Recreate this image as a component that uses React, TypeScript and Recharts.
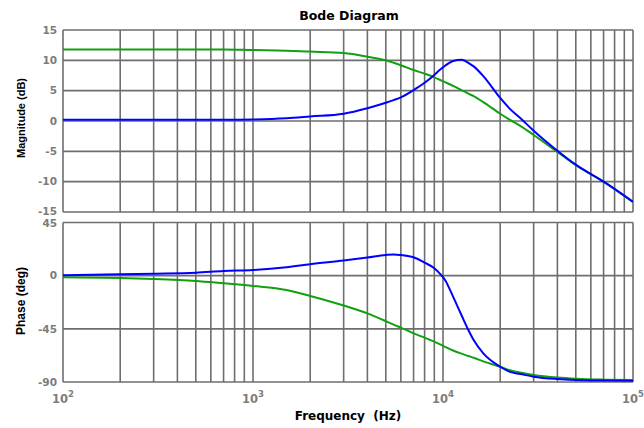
import React from "react";
import { LineChart, Line, XAxis, YAxis, CartesianGrid } from "recharts";

// frequencies (Hz) shared by every trace
const freqs = [
  100, 200, 300, 500, 700, 1000, 1500, 2000, 3000, 4000, 5000, 5500, 6000, 7000,
  8000, 9000, 9600, 10250, 11300, 12500, 13600, 14500, 16300, 20000, 22500,
  25500, 30000, 40000, 50000, 70000, 100000,
];

// magnitude, dB
const magBlue = [
  0.2, 0.2, 0.2, 0.2, 0.2, 0.25, 0.45, 0.75, 1.2, 2.1, 3.0, 3.45, 3.9, 5.1,
  6.3, 7.6, 8.4, 9.1, 9.9, 10.1, 9.6, 9.0, 7.4, 3.8, 2.0, 0.5, -1.6, -4.9,
  -7.2, -10.0, -13.3,
];
const magGreen = [
  11.8, 11.8, 11.8, 11.8, 11.8, 11.7, 11.6, 11.45, 11.2, 10.6, 10.0, 9.6, 9.2,
  8.4, 7.8, 7.2, 6.8, 6.4, 5.8, 5.1, 4.5, 4.1, 3.1, 1.2, 0.2, -0.8, -2.3, -5.1,
  -7.3, -10.0, -13.4,
];

// phase, deg
const phaseBlue = [
  0.3, 1.2, 1.7, 2.5, 4.0, 4.8, 7.1, 9.7, 12.8, 15.3, 17.5, 18.0, 17.5, 15.6,
  11.0, 6.3, 2.0, -3.6, -17.8, -33.3, -46.0, -54.5, -65.8, -77.1, -81.4, -83.2,
  -85.5, -87.5, -88.3, -88.8, -89.0,
];
const phaseGreen = [
  -1.4, -2.0, -2.8, -4.5, -6.5, -8.7, -12.1, -17.2, -25.3, -31.9, -38.5, -41.5,
  -44.0, -48.8, -52.5, -55.9, -58.0, -60.2, -63.3, -66.0, -68.0, -69.5, -72.5,
  -77.1, -80.0, -82.0, -84.0, -86.2, -87.2, -88.0, -88.4,
];

const freqTicks = [
  100, 200, 300, 400, 500, 600, 700, 800, 900,
  1000, 2000, 3000, 4000, 5000, 6000, 7000, 8000, 9000,
  10000, 20000, 30000, 40000, 50000, 60000, 70000, 80000, 90000,
  100000,
];
const magTicks = [-15, -10, -5, 0, 5, 10, 15];
const phaseTicks = [-90, -45, 0, 45];

const magData = freqs.map((f, i) => ({ f, blue: magBlue[i], green: magGreen[i] }));
const phaseData = freqs.map((f, i) => ({ f, blue: phaseBlue[i], green: phaseGreen[i] }));

const GRID = "#6e6e6e";
const TICK = "#7c7c7c";
const BLUE = "#0000ff";
const GREEN = "#10a010";
const FONT = "DejaVu Sans";

// y tick; the labels where the two panels meet are nudged apart a little
function makeYTick(nudgeValue: number, nudge: number) {
  return function YTick({ x, y, payload }: any) {
    const dy = payload.value === nudgeValue ? nudge : 0;
    return (
      <text
        x={x}
        y={y + dy}
        dy="0.36em"
        textAnchor="end"
        fill={TICK}
        fontFamily={FONT}
        fontWeight="bold"
        fontSize={10.5}
      >
        {payload.value}
      </text>
    );
  };
}
const MagTick = makeYTick(-15, -1);
const PhaseTick = makeYTick(45, 1);

// top panel keeps its x ticks (for the grid) but draws no labels
function NoTick() {
  return <g />;
}

function FreqTick({ x, y, payload }: any) {
  const exp = Math.log10(payload.value);
  if (Math.abs(exp - Math.round(exp)) > 1e-6) return <g />;
  return (
    <text x={x} y={y + 13} textAnchor="middle" fill={TICK} fontFamily={FONT} fontWeight="bold" fontSize={11.5}>
      <tspan>10</tspan>
      <tspan dy={-6.5} fontSize={8.5}>{Math.round(exp)}</tspan>
    </text>
  );
}

const label: React.CSSProperties = {
  position: "absolute",
  fontFamily: "Liberation Sans",
  fontWeight: "bold",
  color: "#000",
  whiteSpace: "pre",
  lineHeight: 1,
};

export default function App() {
  return (
    <div style={{ position: "absolute", left: 0, top: 0, width: 644, height: 428, background: "#fff" }}>
      <div style={{ ...label, left: 0, width: 698, top: 10, textAlign: "center", fontFamily: FONT, fontSize: 12.5 }}>
        Bode Diagram
      </div>

      <div style={{ position: "absolute", left: 0, top: 0 }}>
        <LineChart width={644} height={220} data={magData} margin={{ top: 30, right: 11, bottom: 8, left: 0 }}>
          <CartesianGrid stroke={GRID} strokeWidth={1.6} />
          <XAxis
            dataKey="f"
            type="number"
            scale="log"
            domain={[100, 100000]}
            ticks={freqTicks}
            interval={0}
            height={0}
            axisLine={false}
            tickLine={false}
            tick={<NoTick />}
            allowDataOverflow
          />
          <YAxis
            type="number"
            domain={[-15, 15]}
            ticks={magTicks}
            width={63}
            axisLine={false}
            tickLine={false}
            tickSize={4}
            tickMargin={2}
            tick={<MagTick />}
            interval={0}
          />
          <Line dataKey="green" stroke={GREEN} strokeWidth={2} dot={false} type="monotone" isAnimationActive={false} />
          <Line dataKey="blue" stroke={BLUE} strokeWidth={2} dot={false} type="monotone" isAnimationActive={false} />
        </LineChart>
      </div>

      <div style={{ position: "absolute", left: 0, top: 212 }}>
        <LineChart width={644} height={216} data={phaseData} margin={{ top: 10.5, right: 11, bottom: 0, left: 0 }}>
          <CartesianGrid stroke={GRID} strokeWidth={1.6} />
          <XAxis
            dataKey="f"
            type="number"
            scale="log"
            domain={[100, 100000]}
            ticks={freqTicks}
            interval={0}
            height={46}
            axisLine={false}
            tickLine={false}
            tick={<FreqTick />}
            allowDataOverflow
          />
          <YAxis
            type="number"
            domain={[-90, 45]}
            ticks={phaseTicks}
            width={63}
            axisLine={false}
            tickLine={false}
            tickSize={4}
            tickMargin={2}
            tick={<PhaseTick />}
            interval={0}
          />
          <Line dataKey="green" stroke={GREEN} strokeWidth={2} dot={false} type="monotone" isAnimationActive={false} />
          <Line dataKey="blue" stroke={BLUE} strokeWidth={2} dot={false} type="monotone" isAnimationActive={false} />
        </LineChart>
      </div>

      <div
        style={{ ...label, fontSize: 11, left: 21, top: 118, transform: "translate(-50%, -50%) rotate(-90deg)" }}
      >
        Magnitude (dB)
      </div>
      <div
        style={{ ...label, fontSize: 12, left: 21, top: 301, transform: "translate(-50%, -50%) rotate(-90deg)" }}
      >
        Phase (deg)
      </div>
      <div style={{ ...label, fontFamily: FONT, fontSize: 12, left: 63, width: 570, top: 410, textAlign: "center" }}>
        {"Frequency  (Hz)"}
      </div>
    </div>
  );
}
